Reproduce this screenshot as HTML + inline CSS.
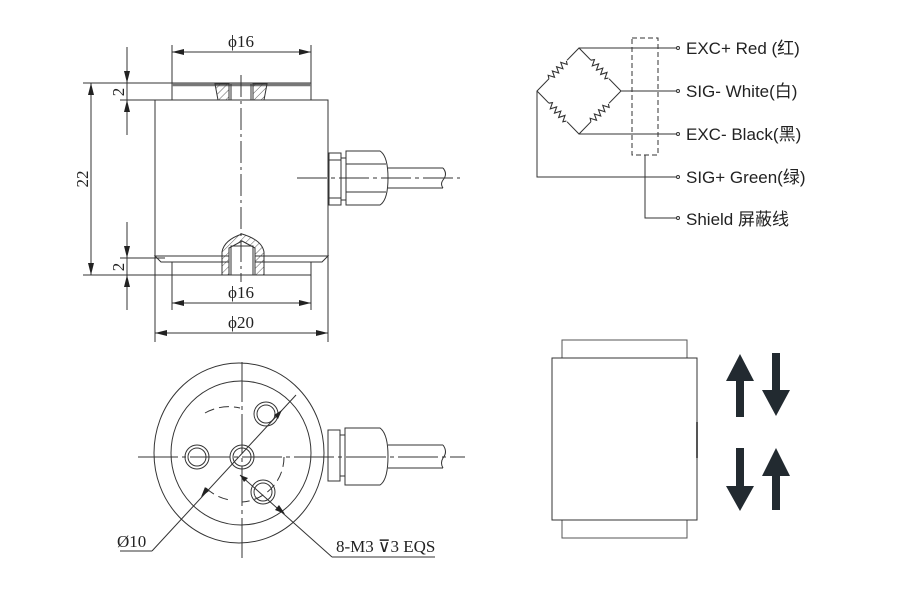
<!DOCTYPE html>
<html><head><meta charset="utf-8"><style>
html,body{margin:0;padding:0;background:#fff;}
svg{display:block;}
text{font-family:"Liberation Serif","Noto Sans CJK SC",serif;fill:#222;}
.s{font-family:"Liberation Sans","Noto Sans CJK SC",sans-serif;}
</style></head><body>
<svg width="900" height="590" viewBox="0 0 900 590" xmlns="http://www.w3.org/2000/svg">
<defs>
<pattern id="h" width="5" height="5" patternUnits="userSpaceOnUse" patternTransform="rotate(45)">
<line x1="0" y1="0" x2="0" y2="5" stroke="#333" stroke-width="0.8"/></pattern>
<g id="res"><line x1="-13" y1="0" x2="13" y2="0" stroke="#fff" stroke-width="3"/><path d="M-13,0 l2,-3 l3,6 l3,-6 l3,6 l3,-6 l3,6 l3,-6 l3,6 l2,-3" stroke="#333" stroke-width="1.1" fill="none"/></g>
</defs>
<g stroke="#333" stroke-width="1" fill="none">
<rect x="172" y="83" width="139" height="17"/>
<line x1="172" y1="85" x2="311" y2="85" stroke-width="2.5" stroke="#777"/>
<rect x="155" y="100" width="173" height="156"/>
<path d="M155,256 L328,256 L322,262 L311,262 L311,275 L172,275 L172,262 L161,262 Z"/>
<line x1="172" y1="262" x2="311" y2="262"/>
<path d="M215,84 L229,84 L229,100 L218,100 Z" fill="url(#h)"/>
<path d="M253,84 L267,84 L264,100 L253,100 Z" fill="url(#h)"/>
<line x1="231" y1="84" x2="231" y2="100"/><line x1="251" y1="84" x2="251" y2="100"/>
<path d="M222,275 L222,252 Q224,240 242,234 Q262,240 264,252 L264,275 Z" fill="url(#h)"/>
<path d="M229,275 L229,248 L242,241 L255,248 L255,275 Z" fill="#fff"/>
<rect x="231" y="246" width="22" height="29"/>
<line x1="241" y1="75" x2="241" y2="282" stroke-dasharray="22,4,3,4"/>
<rect x="329" y="153" width="12" height="52"/>
<line x1="329" y1="160" x2="341" y2="160"/><line x1="329" y1="198" x2="341" y2="198"/>
<rect x="341" y="158" width="5" height="42"/>
<path d="M346,151 L380,151 Q388,156 388,178 Q388,200 380,205 L346,205 Z"/>
<line x1="346" y1="164" x2="386" y2="164"/><line x1="346" y1="192" x2="386" y2="192"/>
<line x1="388" y1="168" x2="443" y2="168"/><line x1="388" y1="188" x2="443" y2="188"/>
<path d="M443,168 Q448,174 443,180 Q440,184 443,188"/>
<line x1="297" y1="178" x2="460" y2="178" stroke-dasharray="30,4,4,4"/>
<line x1="172" y1="45" x2="172" y2="83"/><line x1="311" y1="45" x2="311" y2="83"/>
<line x1="172" y1="52" x2="311" y2="52"/>
<line x1="172" y1="275" x2="172" y2="310"/><line x1="311" y1="275" x2="311" y2="310"/>
<line x1="155" y1="256" x2="155" y2="342"/><line x1="328" y1="256" x2="328" y2="342"/>
<line x1="83" y1="83" x2="172" y2="83"/><line x1="120" y1="100" x2="155" y2="100"/>
<line x1="120" y1="258" x2="165" y2="258"/><line x1="83" y1="275" x2="172" y2="275"/>
<line x1="127" y1="47" x2="127" y2="135"/>
<line x1="127" y1="222" x2="127" y2="310"/>
<line x1="91" y1="83" x2="91" y2="275"/>
<line x1="172" y1="303" x2="311" y2="303"/><line x1="155" y1="333" x2="328" y2="333"/>
</g>
<g fill="#222">
<path d="M172,52 l12,-3 v6z M311,52 l-12,-3 v6z M172,303 l12,-3 v6z M311,303 l-12,-3 v6z M155,333 l12,-3 v6z M328,333 l-12,-3 v6z"/>
<path d="M91,83 l-3,12 h6z M91,275 l-3,-12 h6z M127,83 l-3,-12 h6z M127,100 l-3,12 h6z M127,258 l-3,-12 h6z M127,275 l-3,12 h6z"/>
</g>
<text x="241" y="47" font-size="17" text-anchor="middle">ϕ16</text>
<text x="241" y="298" font-size="17" text-anchor="middle">ϕ16</text>
<text x="241" y="328" font-size="17" text-anchor="middle">ϕ20</text>
<text x="0" y="0" font-size="17" text-anchor="middle" transform="translate(88,179) rotate(-90)">22</text>
<text x="0" y="0" font-size="17" text-anchor="middle" transform="translate(124,92) rotate(-90)">2</text>
<text x="0" y="0" font-size="17" text-anchor="middle" transform="translate(124,267) rotate(-90)">2</text>

<g stroke="#333" stroke-width="1" fill="none">
<ellipse cx="239" cy="453" rx="85" ry="90"/>
<ellipse cx="241" cy="453" rx="70" ry="72"/>
<path d="M205,413 A48,48 0 0 1 240,408" stroke-dasharray="10,5"/>
<path d="M284,457 A45,45 0 0 1 242,502" stroke-dasharray="10,5"/>
<path d="M206,488 A45,45 0 0 0 230,500" stroke-dasharray="10,5"/>
<circle cx="242" cy="457" r="12"/><circle cx="242" cy="457" r="9"/>
<circle cx="197" cy="457" r="12"/><circle cx="197" cy="457" r="9"/>
<circle cx="266" cy="414" r="12"/><circle cx="266" cy="414" r="9"/>
<circle cx="263" cy="492" r="12"/><circle cx="263" cy="492" r="9"/>
<line x1="138" y1="457" x2="465" y2="457" stroke-dasharray="40,4,4,4"/>
<line x1="242" y1="362" x2="242" y2="560" stroke-dasharray="40,4,4,4"/>
<line x1="120" y1="551" x2="152" y2="551"/>
<line x1="152" y1="551" x2="296" y2="395"/>
<line x1="332" y1="557" x2="435" y2="557"/>
<line x1="332" y1="557" x2="240" y2="475"/>
<rect x="328" y="430" width="12" height="51"/>
<rect x="340" y="435" width="5" height="41"/>
<path d="M345,428 L380,428 Q388,434 388,456 Q388,480 380,485 L345,485 Z"/>
<line x1="388" y1="445" x2="443" y2="445"/><line x1="388" y1="468" x2="443" y2="468"/>
<path d="M443,445 Q448,452 443,458 Q440,463 443,468"/>
</g>
<g fill="#222">
<path d="M282,410 l-8,5 l4,4z M201,497 l8,-6 l-4,-4z M240,475 l8,3 l-4,4z M285,514 l-10,-4 l4,-5z"/>
</g>
<text x="117" y="547" font-size="17">Ø10</text>
<text x="336" y="552" font-size="17">8-M3 ⊽3 EQS</text>

<g stroke="#333" stroke-width="1" fill="none">
<rect x="632" y="38" width="26" height="117" stroke-dasharray="5,3"/>
<path d="M579,48 L537,91 L579,134 L621,91 Z"/>
<line x1="579" y1="48" x2="677" y2="48"/>
<line x1="621" y1="91" x2="677" y2="91"/>
<line x1="579" y1="134" x2="677" y2="134"/>
<path d="M537,91 L537,177 L677,177"/>
<path d="M645,155 L645,218 L677,218"/>
<circle cx="678" cy="48" r="1.5"/><circle cx="678" cy="91" r="1.5"/><circle cx="678" cy="134" r="1.5"/><circle cx="678" cy="177" r="1.5"/><circle cx="678" cy="218" r="1.5"/>
</g>
<use href="#res" transform="translate(558,69.5) rotate(-45.7)"/>
<use href="#res" transform="translate(600,69.5) rotate(45.7)"/>
<use href="#res" transform="translate(558,112.5) rotate(45.7)"/>
<use href="#res" transform="translate(600,112.5) rotate(-45.7)"/>
<g font-size="17">
<text class="s" x="686" y="54">EXC+ Red  (红)</text>
<text class="s" x="686" y="97">SIG- White(白)</text>
<text class="s" x="686" y="140">EXC- Black(黑)</text>
<text class="s" x="686" y="183">SIG+ Green(绿)</text>
<text class="s" x="686" y="225">Shield   屏蔽线</text>
</g>

<g stroke="#555" stroke-width="1" fill="none">
<rect x="562" y="340" width="125" height="18"/>
<rect x="562" y="520" width="125" height="18"/>
<rect x="552" y="358" width="145" height="162" fill="#fff" stroke="#333"/>
<line x1="697" y1="422" x2="697" y2="458" stroke-width="2"/>
</g>
<g fill="#222a30">
<path d="M740,354 L754,381 L744,381 L744,417 L736,417 L736,381 L726,381 Z"/>
<path d="M776,416 L762,390 L772,390 L772,353 L780,353 L780,390 L790,390 Z"/>
<path d="M740,511 L726,486 L736,486 L736,448 L744,448 L744,486 L754,486 Z"/>
<path d="M776,448 L790,476 L780,476 L780,510 L772,510 L772,476 L762,476 Z"/>
</g>
</svg>
</body></html>
